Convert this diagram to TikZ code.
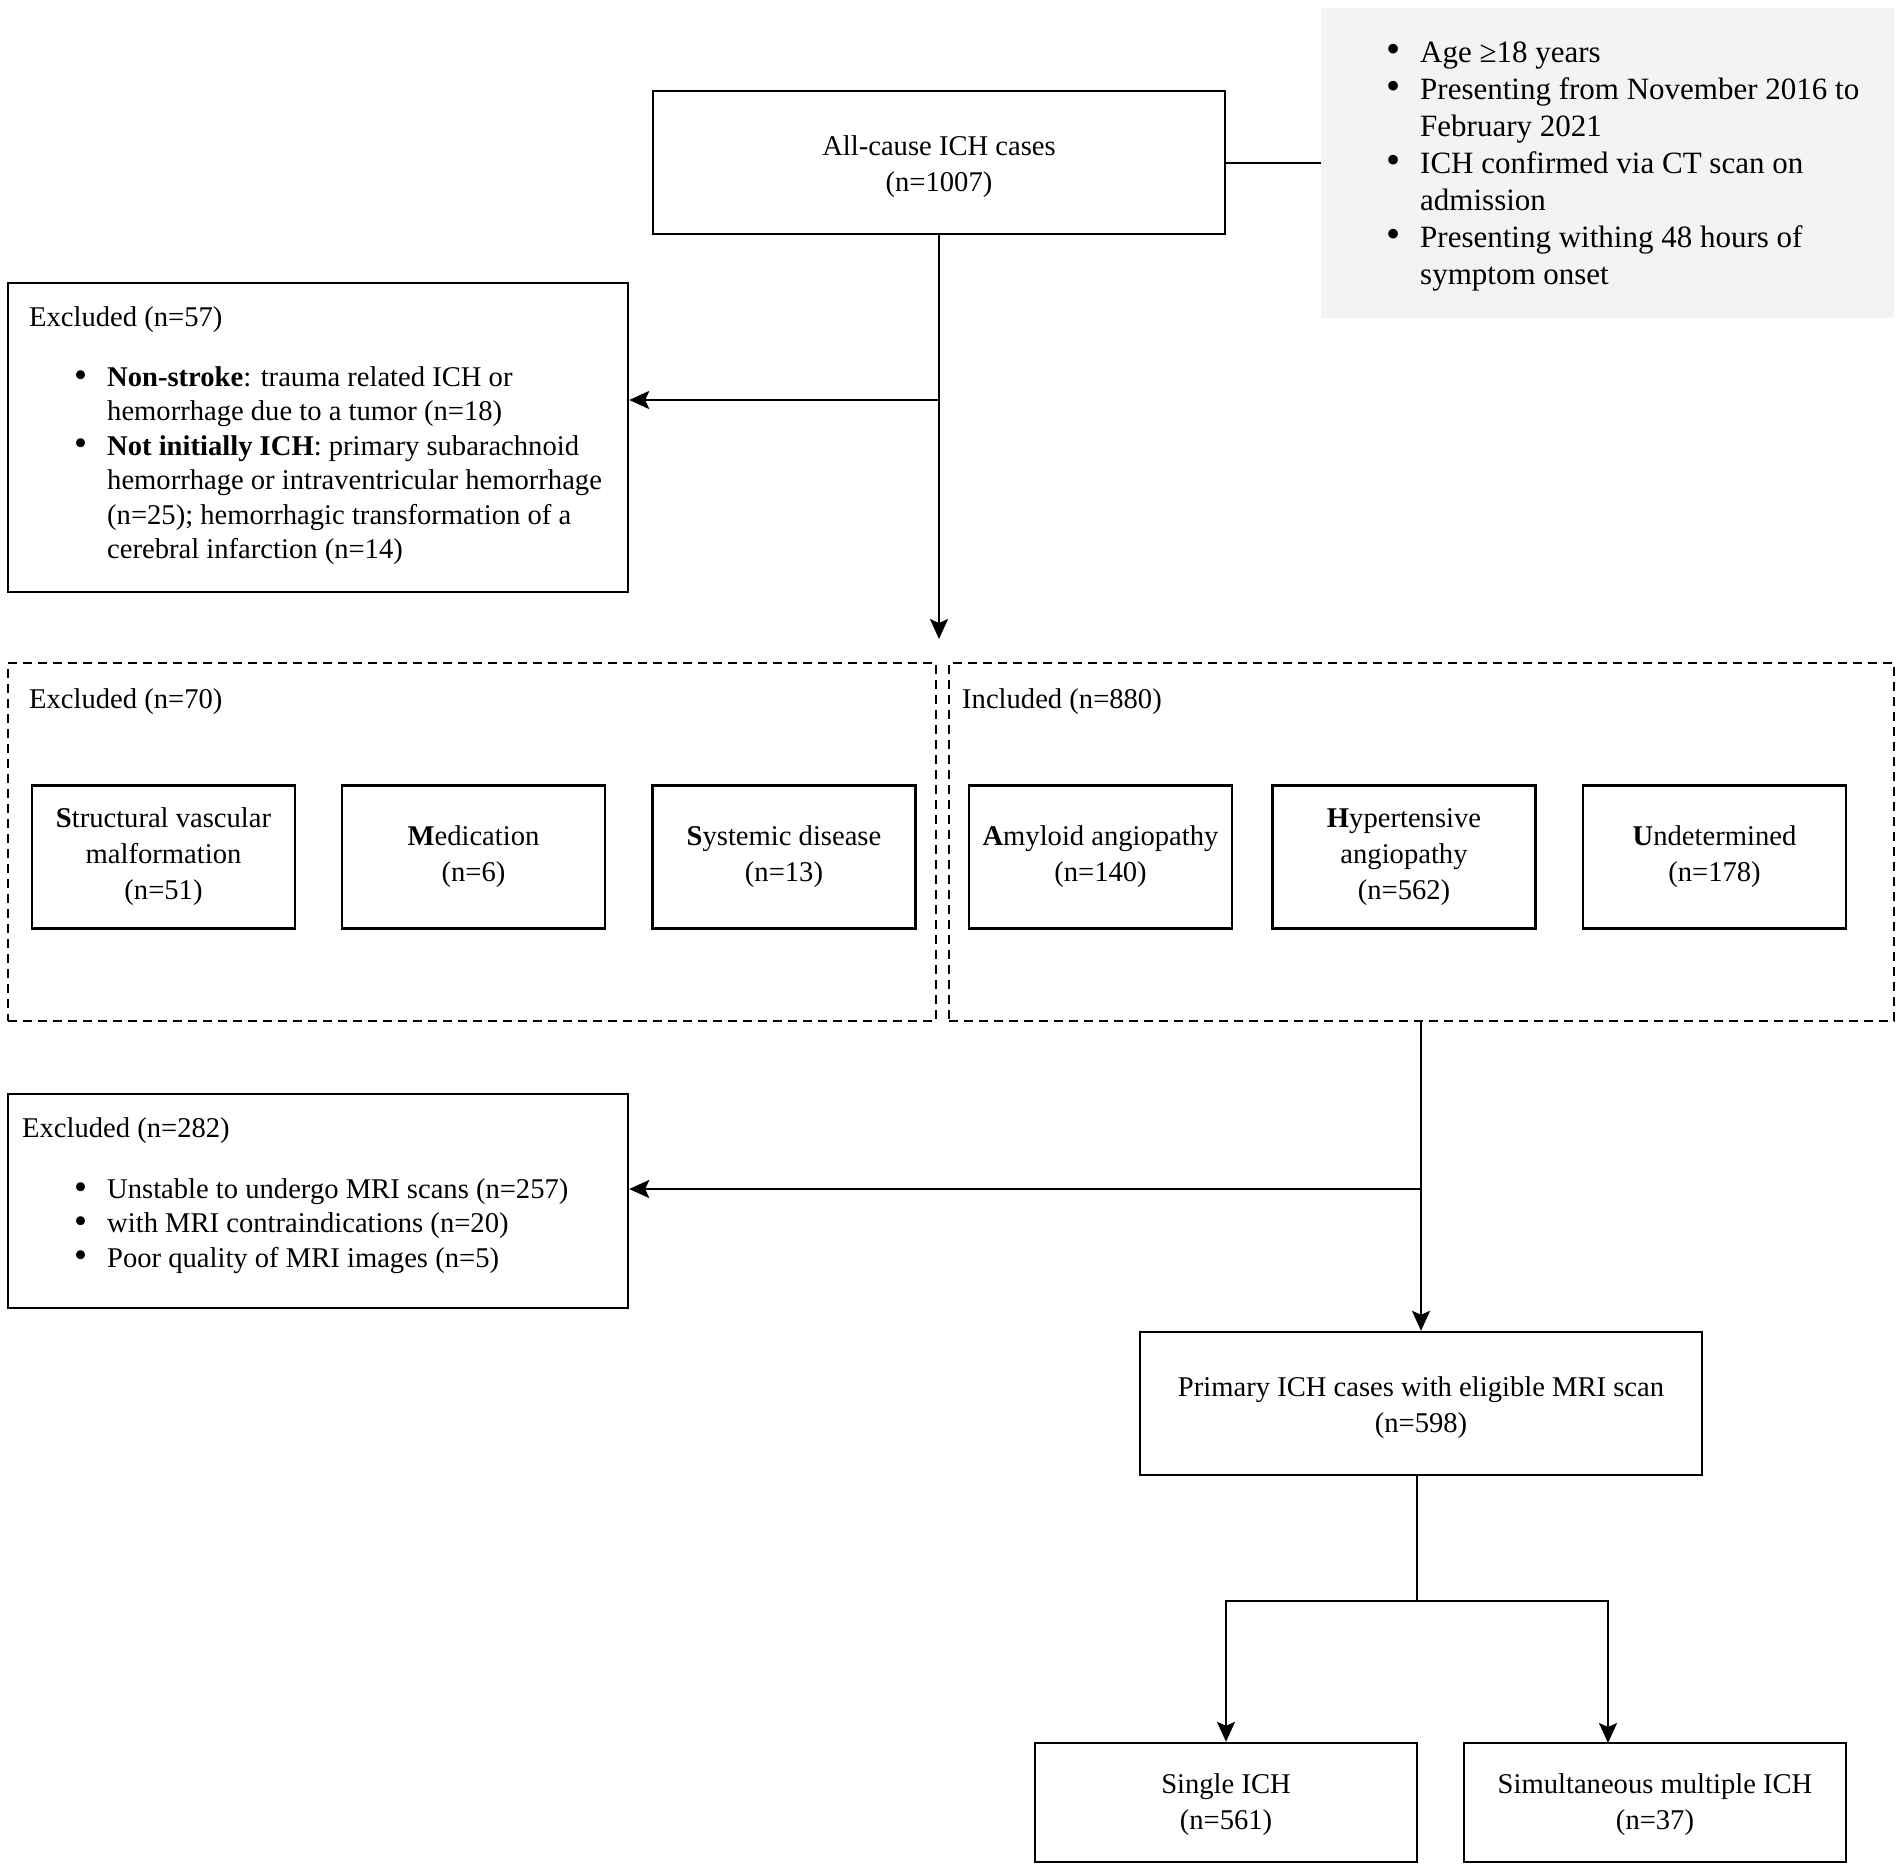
\documentclass[tikz,border=0pt]{standalone}
\usepackage{fontspec}
\setmainfont{Liberation Serif}
\usetikzlibrary{arrows.meta}
\newcommand\mainsz{\fontsize{28.6}{36}\selectfont}
\newcommand\listsz{\fontsize{28.6}{34.4}\selectfont}
\newcommand\graysz{\fontsize{31}{37}\selectfont}
\newcommand\bul{\raisebox{-0.5pt}{\scalebox{1.3}{\textbullet}}}
\definecolor{graybg}{HTML}{F3F3F3}
\begin{document}
\begin{tikzpicture}[x=1pt,y=-1pt,
  box/.style={draw, line width=2.4pt, inner sep=0pt, align=center, font=\mainsz},
  dbox/.style={draw, line width=2pt, dash pattern=on 9pt off 6pt, inner sep=0pt},
  conn/.style={line width=2.2pt},
  arr/.style={conn, -{Stealth[length=20pt,width=18pt,inset=4pt]}},
  txt/.style={inner sep=0pt, anchor=base west, align=left, font=\listsz}]
\fill[white] (0,0) rectangle (1902,1871);
\useasboundingbox (0,0) rectangle (1902,1871);

% top
\node[box, minimum width=572pt, minimum height=143pt] (allc) at (939,162.5) {};
\node[inner sep=0pt, align=center, font=\mainsz] (allct) at (939,166.5) {All-cause ICH cases\\(n=1007)};
\node[fill=graybg, inner sep=0pt, minimum width=573pt, minimum height=310pt] (gray) at (1607.5,163) {};
\node[txt, font=\graysz] (graytxt) at (1386,62) {\begin{tabular}[t]{@{}p{34pt}@{}l@{}}
\bul&Age ≥18 years\\
\bul&Presenting from November 2016 to\\
&February 2021\\
\bul&ICH confirmed via CT scan on\\
&admission\\
\bul&Presenting withing 48 hours of\\
&symptom onset\end{tabular}};

% excluded 57
\node[box, minimum width=620pt, minimum height=309pt] (exc57) at (318,437.5) {};
\node[txt] (e57h) at (29,326.5) {Excluded (n=57)};
\node[txt] (e57l) at (74,386.5) {\begin{tabular}[t]{@{}p{33pt}@{}l@{}}
\bul&\textbf{Non-stroke}: trauma related ICH or\\
&hemorrhage due to a tumor (n=18)\\
\bul&\textbf{Not initially ICH}: primary subarachnoid\\
&hemorrhage or intraventricular hemorrhage\\
&(n=25); hemorrhagic transformation of a\\
&cerebral infarction (n=14)\end{tabular}};

% dashed groups
\node[dbox, minimum width=928pt, minimum height=358pt] (dash1) at (472,842) {};
\node[dbox, minimum width=945pt, minimum height=358pt] (dash2) at (1421.5,842) {};
\node[txt] (d1h) at (29,708.5) {Excluded (n=70)};
\node[txt] (d2h) at (962,708.5) {Included (n=880)};

\node[box, minimum width=263pt, minimum height=143pt] (struct) at (163.5,857) {\textbf{S}tructural vascular\\malformation\\(n=51)};
\node[box, minimum width=263pt, minimum height=143pt] (med) at (473.5,857) {\textbf{M}edication\\(n=6)};
\node[box, minimum width=263pt, minimum height=143pt] (sys) at (784,857) {\textbf{S}ystemic disease\\(n=13)};
\node[box, minimum width=263pt, minimum height=143pt] (amy) at (1100.5,857) {\textbf{A}myloid angiopathy\\(n=140)};
\node[box, minimum width=263pt, minimum height=143pt] (hyp) at (1404,857) {\textbf{H}ypertensive\\angiopathy\\(n=562)};
\node[box, minimum width=263pt, minimum height=143pt] (und) at (1714.5,857) {\textbf{U}ndetermined\\(n=178)};

% excluded 282
\node[box, minimum width=620pt, minimum height=214pt] (exc282) at (318,1201) {};
\node[txt] (e282h) at (22,1137.5) {Excluded (n=282)};
\node[txt] (e282l) at (74,1198.5) {\begin{tabular}[t]{@{}p{33pt}@{}l@{}}
\bul&Unstable to undergo MRI scans (n=257)\\
\bul&with MRI contraindications (n=20)\\
\bul&Poor quality of MRI images (n=5)\end{tabular}};

% bottom
\node[box, minimum width=562pt, minimum height=143pt] (prim) at (1421,1403.5) {};
\node[inner sep=0pt, align=center, font=\mainsz] (primt) at (1421,1407.5) {Primary ICH cases with eligible MRI scan\\(n=598)};
\node[box, minimum width=382pt, minimum height=119pt] (single) at (1226,1802.5) {};
\node[inner sep=0pt, align=center, font=\mainsz] (singlet) at (1226,1804.5) {Single ICH\\(n=561)};
\node[box, minimum width=382pt, minimum height=119pt] (simul) at (1655,1802.5) {};
\node[inner sep=0pt, align=center, font=\mainsz] (simult) at (1655,1804.5) {Simultaneous multiple ICH\\(n=37)};

% connectors
\draw[conn] (allc.east |- gray.west) -- (gray.west);
\coordinate (a1) at (939,639);
\coordinate (j1) at (939,400);
\draw[arr] (allc.south) -- (a1);
\draw[arr] (j1) -- (exc57.east |- j1);
\coordinate (d2b) at (1421,1021);
\coordinate (j2) at (1421,1189);
\draw[arr] (d2b) -- (prim.north);
\draw[arr] (j2) -- (exc282.east |- j2);
\coordinate (p1) at (1417,1475);
\coordinate (j3) at (1417,1601);
\coordinate (s2) at (1608,1743);
\draw[conn] (p1) -- (j3);
\draw[arr] (j3) -| (single.north);
\draw[arr] (j3) -| (s2);
\end{tikzpicture}
\end{document}
